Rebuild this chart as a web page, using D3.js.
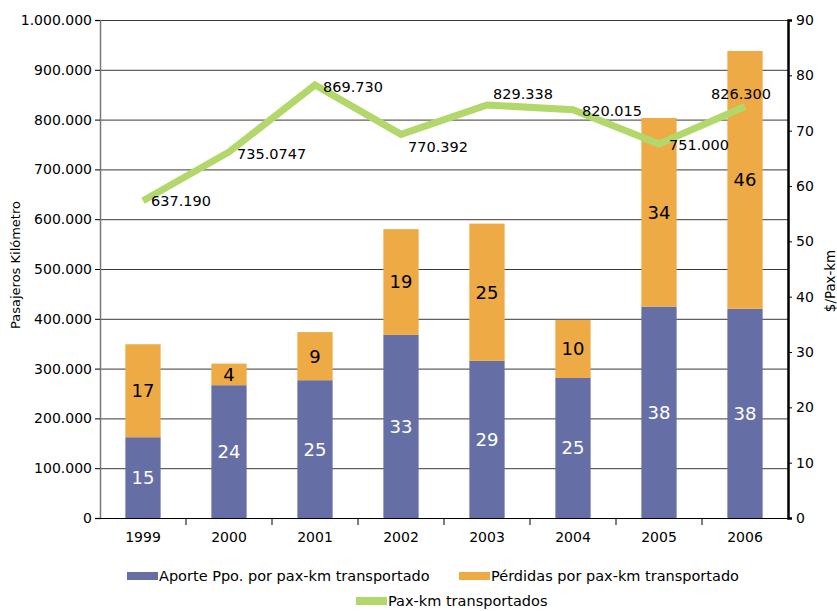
<!DOCTYPE html>
<html>
<head>
<meta charset="utf-8">
<script src="https://cdn.jsdelivr.net/npm/d3@7"></script>
<style>
  body { margin: 0; background: #fff; }
  text { font-family: "DejaVu Sans", sans-serif; fill: #000; }
</style>
</head>
<body>
<svg id="chart" width="837" height="611"></svg>
<script>
const years = ['1999', '2000', '2001', '2002', '2003', '2004', '2005', '2006'];
const aporte = [14.6, 24, 24.9, 33.1, 28.4, 25.3, 38.2, 37.8];
const perdidas = [16.8, 3.9, 8.7, 19.1, 24.8, 10.5, 34.1, 46.6];
const aporteLabels = [15, 24, 25, 33, 29, 25, 38, 38];
const perdidasLabels = [17, 4, 9, 19, 25, 10, 34, 46];
const paxKm = [637190, 735074.7, 869730, 770392, 829338, 820015, 751000, 826300];
const paxKmLabels = ['637.190', '735.0747', '869.730', '770.392', '829.338', '820.015', '751.000', '826.300'];
const leftTicks = d3.range(0, 1000001, 100000);
const rightTicks = d3.range(0, 91, 10);

// where each line label sits relative to its point (dx, dy)
const labelShift = [[8, 0], [8, 2], [8, 2], [7, 12], [6, -11], [9, 1], [10, 1], [-34, -13]];

const width = 837, height = 611;
const margin = { top: 20, right: 49, bottom: 93, left: 100 };
const plotW = width - margin.left - margin.right;
const plotH = height - margin.top - margin.bottom;

const svg = d3.select('#chart');
const g = svg.append('g').attr('transform', `translate(${margin.left},${margin.top})`);

const x = d3.scaleBand().domain(years).range([0, plotW]).padding(0);
const yLeft = d3.scaleLinear().domain([0, 1000000]).range([plotH, 0]);
const yRight = d3.scaleLinear().domain([0, 90]).range([plotH, 0]);

const locale = d3.formatLocale({ decimal: ',', thousands: '.', grouping: [3], currency: ['$', ''] });
const fmt = locale.format(',d');

// grid lines
g.append('g')
    .selectAll('line')
    .data(leftTicks.slice(1))
    .join('line')
    .attr('x1', 0)
    .attr('x2', plotW)
    .attr('y1', d => yLeft(d) + 0.5)
    .attr('y2', d => yLeft(d) + 0.5)
    .attr('stroke', '#3a3a3a')
    .attr('stroke-width', 1);

// stacked bars
const rows = years.map((y, i) => ({ year: y, i, aporte: aporte[i], perdidas: perdidas[i] }));
const stacked = d3.stack().keys(['aporte', 'perdidas'])(rows);
const colors = { aporte: '#666ea6', perdidas: '#eeaa44' };
const labelsFor = { aporte: aporteLabels, perdidas: perdidasLabels };
const barW = x.bandwidth() * 0.41;

const layers = g.append('g')
    .selectAll('g')
    .data(stacked)
    .join('g')
    .attr('fill', d => colors[d.key]);

layers.selectAll('rect')
    .data(d => d)
    .join('rect')
    .attr('x', d => x(d.data.year) + (x.bandwidth() - barW) / 2)
    .attr('width', barW)
    .attr('y', d => yRight(d[1]))
    .attr('height', d => yRight(d[0]) - yRight(d[1]));

layers.selectAll('text')
    .data(d => d.map(v => ({ v, key: d.key })))
    .join('text')
    .attr('x', d => x(d.v.data.year) + x.bandwidth() / 2)
    .attr('y', d => (yRight(d.v[0]) + yRight(d.v[1])) / 2)
    .attr('dy', '0.36em')
    .attr('text-anchor', 'middle')
    .style('font-size', '18px')
    .style('fill', d => d.key === 'aporte' ? '#fff' : '#000')
    .text(d => labelsFor[d.key][d.v.data.i]);

// pax-km line
const line = d3.line()
    .x((d, i) => x(years[i]) + x.bandwidth() / 2)
    .y(d => yLeft(d));

g.append('path')
    .datum(paxKm)
    .attr('d', line)
    .attr('fill', 'none')
    .attr('stroke', '#b2d86b')
    .attr('stroke-width', 7);

g.append('g')
    .selectAll('text')
    .data(paxKm)
    .join('text')
    .attr('x', (d, i) => x(years[i]) + x.bandwidth() / 2 + labelShift[i][0])
    .attr('y', (d, i) => yLeft(d) + labelShift[i][1])
    .attr('dy', '0.36em')
    .style('font-size', '14.5px')
    .text((d, i) => paxKmLabels[i]);

// left axis
const leftAxis = g.append('g')
    .call(d3.axisLeft(yLeft).tickValues(leftTicks).tickFormat(fmt).tickSize(5).tickPadding(3));
leftAxis.select('.domain').attr('stroke', '#777').attr('stroke-width', 1.5);
leftAxis.selectAll('.tick line').attr('stroke', '#000');
leftAxis.selectAll('text').style('font-size', '14px');

// right axis
const rightAxis = g.append('g')
    .attr('transform', `translate(${plotW},0)`)
    .call(d3.axisRight(yRight).tickValues(rightTicks).tickSize(4).tickPadding(4));
rightAxis.select('.domain').attr('stroke', '#000').attr('stroke-width', 2.5);
rightAxis.selectAll('text').style('font-size', '14px');

// bottom axis
g.append('line')
    .attr('x1', 0).attr('x2', plotW)
    .attr('y1', plotH + 0.5).attr('y2', plotH + 0.5)
    .attr('stroke', '#000');
g.append('g')
    .selectAll('line')
    .data(years.slice(1))
    .join('line')
    .attr('x1', d => x(d)).attr('x2', d => x(d))
    .attr('y1', plotH).attr('y2', plotH + 7)
    .attr('stroke', '#000');
g.append('g')
    .selectAll('text')
    .data(years)
    .join('text')
    .attr('x', d => x(d) + x.bandwidth() / 2)
    .attr('y', plotH + 24)
    .attr('text-anchor', 'middle')
    .style('font-size', '14px')
    .text(d => d);

// axis titles
svg.append('text')
    .attr('transform', `translate(20,${margin.top + plotH / 2 - 4}) rotate(-90)`)
    .attr('text-anchor', 'middle')
    .style('font-size', '13px')
    .text('Pasajeros Kilómetro');
svg.append('text')
    .attr('transform', `translate(835,281) rotate(-90)`)
    .attr('text-anchor', 'middle')
    .style('font-size', '13.4px')
    .text('$/Pax-km');

// legend
const legendItems = [
    { label: 'Aporte Ppo. por pax-km transportado', color: colors.aporte, x: 127, y: 572 },
    { label: 'Pérdidas por pax-km transportado', color: colors.perdidas, x: 459, y: 572 },
    { label: 'Pax-km transportados', color: '#b2d86b', x: 356, y: 597 }
];
const legend = svg.append('g')
    .selectAll('g')
    .data(legendItems)
    .join('g')
    .attr('transform', d => `translate(${d.x},${d.y})`);
legend.append('rect')
    .attr('width', 31).attr('height', 8)
    .attr('fill', d => d.color);
legend.append('text')
    .attr('x', 32).attr('y', 4)
    .attr('dy', '0.36em')
    .style('font-size', '14.5px')
    .text(d => d.label);
</script>
</body>
</html>
